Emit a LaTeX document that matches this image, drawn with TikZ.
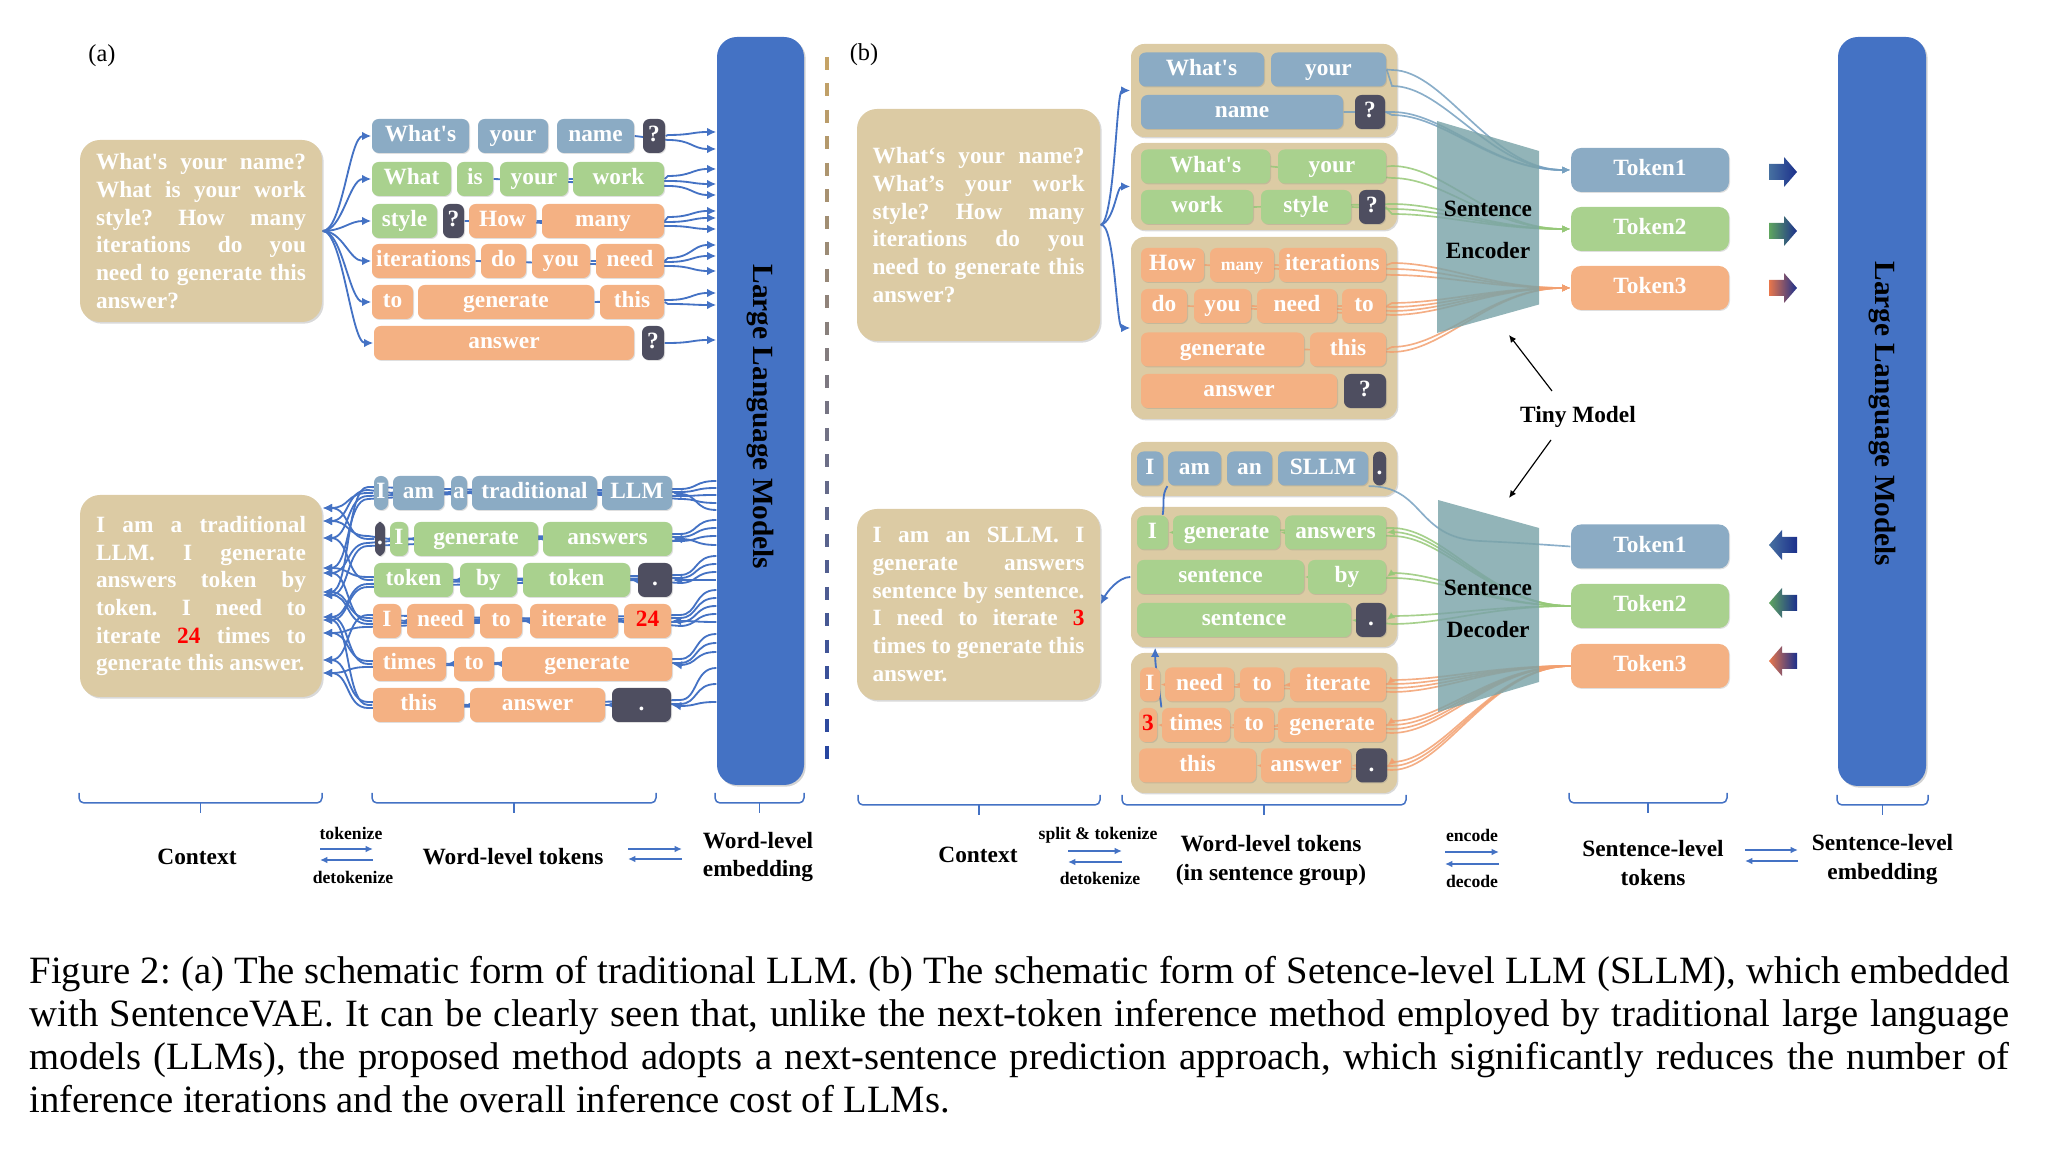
\documentclass[tikz,border=0pt]{standalone}
\usepackage{fontspec}
\setmainfont{Liberation Serif}
\usetikzlibrary{arrows.meta,shadows}
\definecolor{ctxtan}{RGB}{220,203,164}
\definecolor{tokblue}{RGB}{139,171,196}
\definecolor{tokgreen}{RGB}{169,209,142}
\definecolor{tokorange}{RGB}{244,177,131}
\definecolor{tokdark}{RGB}{78,78,96}
\definecolor{llmblue}{RGB}{68,114,196}
\definecolor{wireblue}{RGB}{68,114,196}
\definecolor{trapteal}{RGB}{122,163,168}
\definecolor{encblue}{RGB}{118,160,192}
\definecolor{encgreen}{RGB}{150,200,120}
\definecolor{encorange}{RGB}{242,160,112}
\definecolor{dashtan}{RGB}{197,163,102}
\definecolor{dashnavy}{RGB}{40,70,160}
\definecolor{arrsteel}{RGB}{70,112,160}
\definecolor{arrgreen}{RGB}{95,165,95}
\definecolor{arrcoral}{RGB}{232,118,75}
\definecolor{arrnavy}{RGB}{28,48,140}
\pgfdeclarelayer{back}
\pgfdeclarelayer{mid}
\pgfsetlayers{back,mid,main}
\frenchspacing
\hyphenpenalty=10000
\exhyphenpenalty=10000
\tikzset{
  ctx/.style={rectangle, rounded corners=6pt, fill=ctxtan, text=white, inner sep=0pt, align=justify, font=\fontsize{7}{8.3}\selectfont\bfseries, drop shadow={shadow xshift=0.5pt, shadow yshift=-0.5pt, opacity=0.3}},
  tok/.style={rectangle, rounded corners=2pt, inner sep=0pt, text=white, minimum height=10.2pt, text height=4.9pt, text depth=1.4pt, font=\fontsize{7}{8}\selectfont\bfseries, drop shadow={shadow xshift=0.3pt, shadow yshift=-0.3pt, opacity=0.25}},
  stok/.style={tok, minimum width=47.4pt, minimum height=13.2pt, rounded corners=3pt},
  grp/.style={rectangle, rounded corners=4pt, fill=ctxtan, inner sep=0pt, drop shadow={shadow xshift=0.4pt, shadow yshift=-0.4pt, opacity=0.3}},
  llm/.style={rectangle, rounded corners=6pt, fill=llmblue, inner sep=0pt, drop shadow={shadow xshift=0.5pt, shadow yshift=-0.5pt, opacity=0.35}},
  llmtext/.style={font=\fontsize{8.8}{10}\selectfont\bfseries, inner sep=0pt},
  wire/.style={draw=wireblue, line width=0.55pt},
  warrow/.style={wire, -{Latex[length=2.8pt, width=2.6pt]}},
  ewire/.style={line width=0.5pt, draw opacity=0.85, -{Latex[length=2.4pt, width=2.2pt]}},
  tarrow/.style={draw=black, line width=0.35pt, -{Latex[length=2.2pt, width=2pt]}},
  brc/.style={draw=wireblue, line width=0.45pt, rounded corners=1.5pt},
  pair/.style={draw=wireblue, line width=0.45pt, -{Latex[length=2.2pt, width=2pt]}},
  lab/.style={font=\fontsize{7}{8.6}\selectfont\bfseries, align=center},
  smalllab/.style={font=\fontsize{5.3}{6}\selectfont\bfseries}
}

\begin{document}
\begin{tikzpicture}[x=0.3pt, y=-0.3pt]
\useasboundingbox (0,0) rectangle (2062,1150);

% panel tags
\node[font=\fontsize{7.3}{8}\selectfont] (tag-a) at (102,56) {(a)};
\node[font=\fontsize{7.3}{8}\selectfont] (tag-b) at (864,55) {(b)};

% context boxes
\node[ctx, text width=63pt, minimum width=72.6pt, minimum height=54.6pt] (ctx-qa) at (201,231)
{What\textquotesingle s your name?\linebreak What is your work\linebreak style? How many\linebreak iterations do you\linebreak need to generate this\linebreak answer?};
\node[ctx, text width=63pt, minimum width=72.6pt, minimum height=60.6pt] (ctx-ra) at (201,596)
{I am a traditional\linebreak LLM. I generate\linebreak answers token by\linebreak token. I need to\linebreak iterate \textcolor{red}{24} times to\linebreak generate this answer.};
\node[ctx, text width=63.6pt, minimum width=72.9pt, minimum height=69.6pt] (ctx-qb) at (978.5,225)
{What‘s your name?\linebreak What’s your work\linebreak style? How many\linebreak iterations do you\linebreak need to generate this\linebreak answer?};
\node[ctx, text width=63.6pt, minimum width=72.9pt, minimum height=57.3pt] (ctx-rb) at (978.5,604.5)
{I am an SLLM. I\linebreak generate answers\linebreak sentence by sentence.\linebreak I need to iterate \textcolor{red}{3}\linebreak times to generate this\linebreak answer.};

% sentence groups
\begin{pgfonlayer}{back}
\node[grp, minimum width=79.8pt, minimum height=27.9pt] (qb-g1) at (1264,90.5) {};
\node[grp, minimum width=79.8pt, minimum height=26.1pt] (qb-g2) at (1264,186.5) {};
\node[grp, minimum width=79.8pt, minimum height=54.6pt] (qb-g3) at (1264,328) {};
\node[grp, minimum width=79.8pt, minimum height=16.2pt] (rb-g1) at (1264,469) {};
\node[grp, minimum width=79.8pt, minimum height=42pt] (rb-g2) at (1264,577) {};
\node[grp, minimum width=79.8pt, minimum height=42pt] (rb-g3) at (1264,723) {};
\end{pgfonlayer}

% word-level tokens
\foreach \nm/\xa/\xb/\y/\col/\lbl in {
  qa-1-1/372/469/136/tokblue/What\textquotesingle s, qa-1-2/478/548/136/tokblue/your,
  qa-1-3/557/634/136/tokblue/name, qa-1-4/643/665/136/tokdark/?,
  qa-2-1/372/451/179/tokgreen/What, qa-2-2/457/493/179/tokgreen/is,
  qa-2-3/500/568/179/tokgreen/your, qa-2-4/573/664/179/tokgreen/work,
  qa-3-1/372/437/221/tokgreen/style, qa-3-2/443/464/221/tokdark/?,
  qa-3-3/469/536/221/tokorange/How, qa-3-4/542/664/221/tokorange/many,
  qa-4-1/372/475/261/tokorange/iterations, qa-4-2/481/526/261/tokorange/do,
  qa-4-3/532/590/261/tokorange/you, qa-4-4/596/664/261/tokorange/need,
  qa-5-1/372/413/302/tokorange/to, qa-5-2/418/594/302/tokorange/generate,
  qa-5-3/600/664/302/tokorange/this,
  qa-6-1/374/634/343/tokorange/answer, qa-6-2/642/664/343/tokdark/?,
  ra-1-1/374/388/493/tokblue/I, ra-1-2/393/444/493/tokblue/am, ra-1-3/451/467/493/tokblue/a,
  ra-1-4/472/597/493/tokblue/traditional, ra-1-5/602/672/493/tokblue/LLM,
  ra-2-1/375/385/539/tokdark/., ra-2-2/390/408/539/tokgreen/I,
  ra-2-3/414/538/539/tokgreen/generate, ra-2-4/543/672/539/tokgreen/answers,
  ra-3-1/374/453/580/tokgreen/token, ra-3-2/460/517/580/tokgreen/by,
  ra-3-3/523/630/580/tokgreen/token, ra-3-4/638/672/580/tokdark/.,
  ra-4-1/373/401/621/tokorange/I, ra-4-2/407/474/621/tokorange/need,
  ra-4-3/480/522/621/tokorange/to, ra-4-4/530/618/621/tokorange/iterate,
  ra-4-5/624/671/621/tokorange/\textcolor{red}{24},
  ra-5-1/373/446/664/tokorange/times, ra-5-2/454/494/664/tokorange/to,
  ra-5-3/502/672/664/tokorange/generate,
  ra-6-1/373/464/705/tokorange/this, ra-6-2/470/605/705/tokorange/answer,
  ra-6-3/612/671/705/tokdark/.,
  qb-1-1/1139/1264/69.5/tokblue/What\textquotesingle s, qb-1-2/1271/1386/69.5/tokblue/your,
  qb-1-3/1141/1343/112/tokblue/name, qb-1-4/1355/1385/112/tokdark/?,
  qb-2-1/1141/1270/166.5/tokgreen/What\textquotesingle s, qb-2-2/1278/1386/166.5/tokgreen/your,
  qb-2-3/1141/1253/207/tokgreen/work, qb-2-4/1261/1351/207/tokgreen/style,
  qb-2-5/1359/1385/207/tokdark/?,
  qb-3-1/1141/1204/265/tokorange/How, qb-3-2/1210/1274/265/tokorange/{\fontsize{5.3}{6}\selectfont many},
  qb-3-3/1279/1386/265/tokorange/iterations,
  qb-3-4/1141/1187/306/tokorange/do, qb-3-5/1194/1251/306/tokorange/you,
  qb-3-6/1257/1337/306/tokorange/need, qb-3-7/1342/1386/306/tokorange/to,
  qb-3-8/1141/1304/349.5/tokorange/generate, qb-3-9/1310/1386/349.5/tokorange/this,
  qb-3-10/1141/1337/391/tokorange/answer, qb-3-11/1344/1386/391/tokdark/?,
  rb-1-1/1137/1163/468.5/tokblue/I, rb-1-2/1168/1221/468.5/tokblue/am,
  rb-1-3/1227/1272/468.5/tokblue/an, rb-1-4/1278/1368/468.5/tokblue/SLLM,
  rb-1-5/1373/1386/468.5/tokdark/.,
  rb-2-1/1137/1168/532.5/tokgreen/I, rb-2-2/1173/1280/532.5/tokgreen/generate,
  rb-2-3/1285/1386/532.5/tokgreen/answers,
  rb-2-4/1137/1304/577/tokgreen/sentence, rb-2-5/1308/1386/577/tokgreen/by,
  rb-2-6/1137/1351/620/tokgreen/sentence, rb-2-7/1356/1386/620/tokdark/.,
  rb-3-1/1140/1160/684.5/tokorange/I, rb-3-2/1165/1234/684.5/tokorange/need,
  rb-3-3/1240/1284/684.5/tokorange/to, rb-3-4/1290/1386/684.5/tokorange/iterate,
  rb-3-5/1139/1157/725/tokorange/\textcolor{red}{3}, rb-3-6/1162/1230/725/tokorange/times,
  rb-3-7/1234/1274/725/tokorange/to, rb-3-8/1278/1386/725/tokorange/generate,
  rb-3-9/1139/1256/765.5/tokorange/this, rb-3-10/1261/1351/765.5/tokorange/answer,
  rb-3-11/1356/1387/765.5/tokdark/.}
  \node[tok, fill=\col, minimum width={(\xb-\xa)*0.3pt}] (\nm) at ({(\xa+\xb)/2},\y) {\lbl};

% large language models
\node[llm, minimum width=26.1pt, minimum height=224.4pt] (llm-a) at (760.5,411) {};
\node[llmtext, rotate=-90] (llm-a-text) at (760,417) {Large Language Models};
\node[llm, minimum width=26.4pt, minimum height=224.7pt] (llm-b) at (1882,411.5) {};
\node[llmtext, rotate=-90] (llm-b-text) at (1882,414) {Large Language Models};

% sentence-level tokens
\node[stok, fill=tokblue] (tok-e1) at (1650,170) {Token1};
\node[stok, fill=tokgreen] (tok-e2) at (1650,229) {Token2};
\node[stok, fill=tokorange] (tok-e3) at (1650,288) {Token3};
\node[stok, fill=tokblue] (tok-d1) at (1650,546.5) {Token1};
\node[stok, fill=tokgreen] (tok-d2) at (1650,606) {Token2};
\node[stok, fill=tokorange] (tok-d3) at (1650,666) {Token3};

% tiny model
\fill[trapteal, fill opacity=0.82] (1437,121) -- (1539,151) -- (1539,304.5) -- (1437,333) -- cycle;
\fill[trapteal, fill opacity=0.82] (1438,500) -- (1539,528) -- (1539,682) -- (1438,712) -- cycle;
\node[lab, font=\fontsize{7}{12.6}\selectfont\bfseries] (enc) at (1488,230) {Sentence\\Encoder};
\node[lab, font=\fontsize{7}{12.6}\selectfont\bfseries] (dec) at (1488,609) {Sentence\\Decoder};
\node[lab] (tiny) at (1578,416.6) {Tiny Model};
\coordinate (tiny-up) at (1552,391);
\coordinate (tiny-dn) at (1551,440);
\coordinate (enc-foot) at (1509,335);
\coordinate (dec-head) at (1509,498);
\draw[tarrow] (tiny-up) -- (enc-foot);
\draw[tarrow] (tiny-dn) -- (dec-head);

% flow arrows
\foreach \y/\col in {172/arrsteel, 231/arrgreen, 288/arrcoral}
  \shade[left color=\col, right color=arrnavy] (1769,\y-8) -- (1784,\y-8) -- (1784,\y-15) -- (1797,\y)
    -- (1784,\y+15) -- (1784,\y+8) -- (1769,\y+8) -- cycle;
\foreach \y/\col in {545/arrsteel, 603/arrgreen, 661/arrcoral}
  \shade[left color=\col, right color=arrnavy] (1797,\y-8) -- (1782,\y-8) -- (1782,\y-15) -- (1769,\y)
    -- (1782,\y+15) -- (1782,\y+8) -- (1797,\y+8) -- cycle;

% divider
\foreach \k in {0,...,26} {
  \pgfmathtruncatemacro\p{100*\k/26}
  \draw[line width=1pt, draw=dashnavy!\p!dashtan] (827,57+26.5*\k) -- (827,70+26.5*\k);
}

% connectors
\begin{pgfonlayer}{mid}
\foreach \rw in {1,...,6}
  \draw[warrow] (ctx-qa.east) .. controls +(20,0) and +(-22,0) .. (qa-\rw-1.west);
\foreach \nm/\ys/\ty in {qa-1-4/135/132, qa-1-3/140/149, qa-2-4/176/169, qa-2-3/181/184,
  qa-2-2/186/195, qa-3-4/217/211, qa-3-3/222/218, qa-3-2/226/229, qa-4-4/258/245,
  qa-4-3/262/256, qa-4-1/266/271, qa-5-2/300/293, qa-5-3/304/305, qa-6-2/343/340}
  \draw[warrow] (\nm.east) -- (668,\ys) .. controls (692,\ys) and (692,\ty) .. (llm-a.west |- 0,\ty);
\foreach \nm/\by/\ey in {ra-1-1/481/489, ra-1-2/488/492, ra-1-3/495/496, ra-1-4/503/499, ra-1-5/510/494,
  ra-2-1/520/534, ra-2-2/528/537, ra-2-3/536/541, ra-2-4/545/539,
  ra-3-1/556/575, ra-3-2/564/578, ra-3-3/572/583, ra-3-4/580/580,
  ra-4-1/590/615, ra-4-2/598/618, ra-4-3/606/622, ra-4-4/614/626, ra-4-5/622/621,
  ra-5-1/634/659, ra-5-2/643/663, ra-5-3/652/665,
  ra-6-1/668/700, ra-6-2/684/704, ra-6-3/702/706}
  \draw[warrow] (llm-a.west |- 0,\by) .. controls (694,\by) and (698,\ey) .. (680,\ey) -- (\nm.east);
\foreach \nm/\ey/\cy in {ra-1-1/493/508, ra-1-2/490/521, ra-1-3/496/538, ra-1-4/499/568, ra-1-5/487/592,
  ra-2-1/539/508, ra-2-2/536/521, ra-2-3/543/573, ra-2-4/546/595,
  ra-3-1/580/538, ra-3-2/577/568, ra-3-3/584/617, ra-3-4/587/620,
  ra-4-1/621/573, ra-4-2/618/592, ra-4-3/624/595, ra-4-4/627/633, ra-4-5/615/660,
  ra-5-1/664/617, ra-5-2/661/633, ra-5-3/667/673,
  ra-6-1/705/620, ra-6-2/702/660, ra-6-3/708/673}
  \draw[warrow] (\nm.west) -- (368,\ey) .. controls (346,\ey) and (350,\cy) .. (ctx-ra.east |- 0,\cy);

\foreach \g in {1,2,3}
  \draw[warrow] (ctx-qb.east) .. controls +(14,-4) and +(-14,0) .. (qb-g\g.west);
\draw[warrow] (rb-g2.west) .. controls +(-12,0) and +(6,-12) .. (ctx-rb.east);
\draw[wire] (rb-1-2.south west) .. controls +(-6,10) and +(2,-12) .. (rb-2-1.60);
\draw[warrow] (rb-3-6.north west) .. controls +(-2,-20) and +(0,20) .. (rb-g2.-147);

\foreach \nm/\ys/\col/\k in {qb-1-2/70/encblue/1, qb-1-2/86/encblue/1, qb-1-3/112/encblue/1, qb-1-4/115/encblue/1,
  qb-2-2/166/encgreen/2, qb-2-1/178/encgreen/2, qb-2-3/204/encgreen/2, qb-2-4/209/encgreen/2, qb-2-5/214/encgreen/2,
  qb-3-3/263/encorange/3, qb-3-2/269/encorange/3, qb-3-1/275/encorange/3, qb-3-7/303/encorange/3,
  qb-3-6/307/encorange/3, qb-3-5/311/encorange/3, qb-3-4/315/encorange/3, qb-3-9/347/encorange/3,
  qb-3-8/352/encorange/3}
  \draw[ewire, draw=\col] (\nm.east) -- (1392,\ys) .. controls (1445,\ys) and +(-80,0) .. (tok-e\k.west);
\draw[line width=0.5pt, draw=encblue, draw opacity=0.85] (rb-1-4.south east) .. controls (1425,486) and (1415,538)
  .. (1480,541) .. controls (1520,543) .. (tok-d1.west);
\foreach \nm/\ys/\col/\k in {rb-2-3/532/encgreen/2, rb-2-2/536/encgreen/2, rb-2-1/528/encgreen/2,
  rb-2-5/573/encgreen/2, rb-2-4/578/encgreen/2, rb-2-7/616/encgreen/2, rb-2-6/624/encgreen/2,
  rb-3-4/680/encorange/3, rb-3-3/684/encorange/3, rb-3-2/688/encorange/3, rb-3-1/692/encorange/3,
  rb-3-8/721/encorange/3, rb-3-7/725/encorange/3, rb-3-6/729/encorange/3, rb-3-5/733/encorange/3,
  rb-3-11/762/encorange/3, rb-3-10/766/encorange/3, rb-3-9/770/encorange/3}
  \draw[ewire, draw=\col] (tok-d\k.west) .. controls +(-80,0) and (1445,\ys) .. (1392,\ys) -- (\nm.east);
\end{pgfonlayer}

% braces
\foreach \xa/\xb/\ya in {79/322/793, 372/656/793, 715/804/793, 858/1100/795, 1122/1406/795, 1569/1727/793, 1837/1928/795} {
  \draw[brc] (\xa,\ya) -- (\xa,\ya+10) -- (\xb,\ya+10) -- (\xb,\ya);
  \draw[brc] ({(\xa+\xb)/2},\ya+10) -- ({(\xa+\xb)/2},\ya+20);
}

% labels
\node[lab] (lab-ctx-a) at (197,857) {Context};
\node[smalllab] (lab-tok-a) at (351,833) {tokenize};
\node[smalllab] (lab-detok-a) at (353,877) {detokenize};
\node[lab] (lab-wlt-a) at (513,857) {Word-level tokens};
\node[lab] (lab-wle-a) at (758,857) {Word-level\\embedding};
\node[lab] (lab-ctx-b) at (978,855) {Context};
\node[smalllab] (lab-split) at (1098,835) {split \& tokenize};
\node[smalllab] (lab-detok-b) at (1100,878) {detokenize};
\node[lab] (lab-wlt-b) at (1271,860.5) {Word-level tokens\\(in sentence group)};
\node[smalllab] (lab-enc) at (1472,835) {encode};
\node[smalllab] (lab-dec) at (1472,881) {decode};
\node[lab] (lab-slt) at (1653,863) {Sentence-level\\tokens};
\node[lab] (lab-sle) at (1882.5,859.5) {Sentence-level\\embedding};
\foreach \xa/\xb/\ya/\yb in {320/373/849/860, 628/682/849/859, 1068/1122/851/862, 1445/1499/852/864, 1745/1798/850/861} {
  \draw[pair] (\xa,\ya) -- (\xb,\ya);
  \draw[pair] (\xb,\yb) -- (\xa,\yb);
}

% caption
\node[anchor=north west, inner sep=0pt, text width=594pt, align=justify,
  font=\fontsize{11.6}{12.9}\selectfont] (caption) at (29,956)
{\spaceskip=0.25em plus 0.2em minus 0.13em\relax
Figure 2: (a) The schematic form of traditional LLM. (b) The schematic form of Setence-level LLM (SLLM), which embedded\linebreak
with SentenceVAE. It can be clearly seen that, unlike the next-token inference method employed by traditional large language\linebreak
models (LLMs), the proposed method adopts a next-sentence prediction approach, which significantly reduces the number of\linebreak
inference iterations and the overall inference cost of LLMs.};

\end{tikzpicture}
\end{document}
